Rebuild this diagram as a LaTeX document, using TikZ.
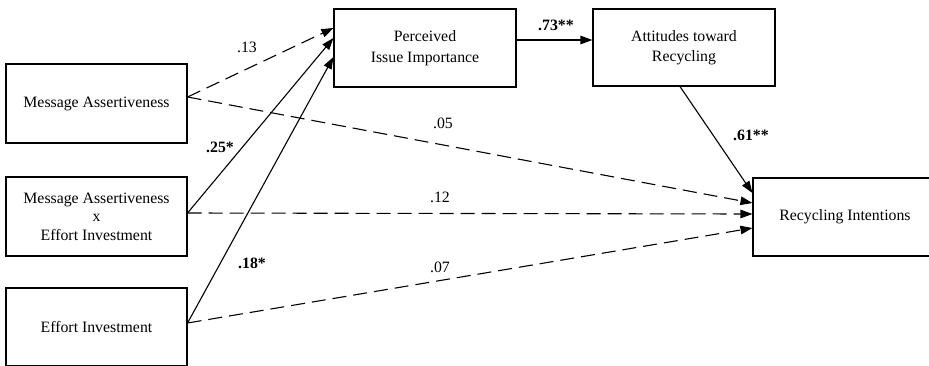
\documentclass[tikz,border=0pt]{standalone}
\usepackage{fontspec}
\setmainfont{Liberation Serif}
\usetikzlibrary{arrows.meta}

\begin{document}
\begin{tikzpicture}[x=1pt,y=-1pt,
  box/.style={draw,line width=1.1pt,align=center,inner sep=2pt,
    font=\fontsize{15.8}{20.5}\selectfont},
  coef/.style={inner sep=1pt,font=\fontsize{15.8}{19}\selectfont},
  sigcoef/.style={coef,font=\fontsize{15.8}{19}\selectfont\bfseries},
  effect/.style={line width=1.1pt,-{Triangle[length=12pt,width=8.5pt]}},
  nseffect/.style={effect,dash pattern=on 14pt off 7pt}]
\useasboundingbox (0,0) rectangle (929,365);

% predictors
\node[box,minimum width=181pt,minimum height=79pt](ma) at (96.5,103.5){Message Assertiveness};
\node[box,minimum width=181pt,minimum height=79pt](mxe) at (96.5,216.5)
  {Message Assertiveness\\[-2pt]x\\[-2pt]Effort Investment};
\node[box,minimum width=181pt,minimum height=78pt](ei) at (96.5,327){Effort Investment};

% mediators and outcome
\node[box,minimum width=182pt,minimum height=78pt](pii) at (425,48){Perceived\\Issue Importance};
\node[box,minimum width=182pt,minimum height=77pt](att) at (684,47.5){Attitudes toward\\Recycling};
\node[box,minimum width=184pt,minimum height=78pt](ri) at (845,217){Recycling Intentions};

% paths to mediator
\draw[nseffect]([yshift=6.5pt]ma.east)--([yshift=20pt]pii.west);
\draw[effect]([yshift=3.5pt]mxe.east)--([yshift=10pt]pii.west);
\draw[effect]([yshift=4pt]ei.east)--([yshift=-9pt]pii.west);
\draw[effect]([yshift=8pt]pii.east)--([yshift=7.5pt]att.west);
\draw[effect]([xshift=-4pt]att.south)--([yshift=24pt]ri.west);

% direct paths
\draw[nseffect]([yshift=6.5pt]ma.east)--([yshift=14pt]ri.west);
\draw[nseffect]([yshift=3.5pt]mxe.east)--([yshift=3pt]ri.west);
\draw[nseffect]([yshift=4pt]ei.east)--([yshift=-11pt]ri.west);

% coefficients
\node[coef](c13) at (247,47){.13};
\node[sigcoef](c25) at (220,147){.25*};
\node[sigcoef](c18) at (252,263){.18*};
\node[sigcoef](c73) at (556,25){.73**};
\node[sigcoef](c61) at (751,135){.61**};
\node[coef](c05) at (443,123){.05};
\node[coef](c12) at (440,197){.12};
\node[coef](c07) at (440,267){.07};
\end{tikzpicture}
\end{document}
